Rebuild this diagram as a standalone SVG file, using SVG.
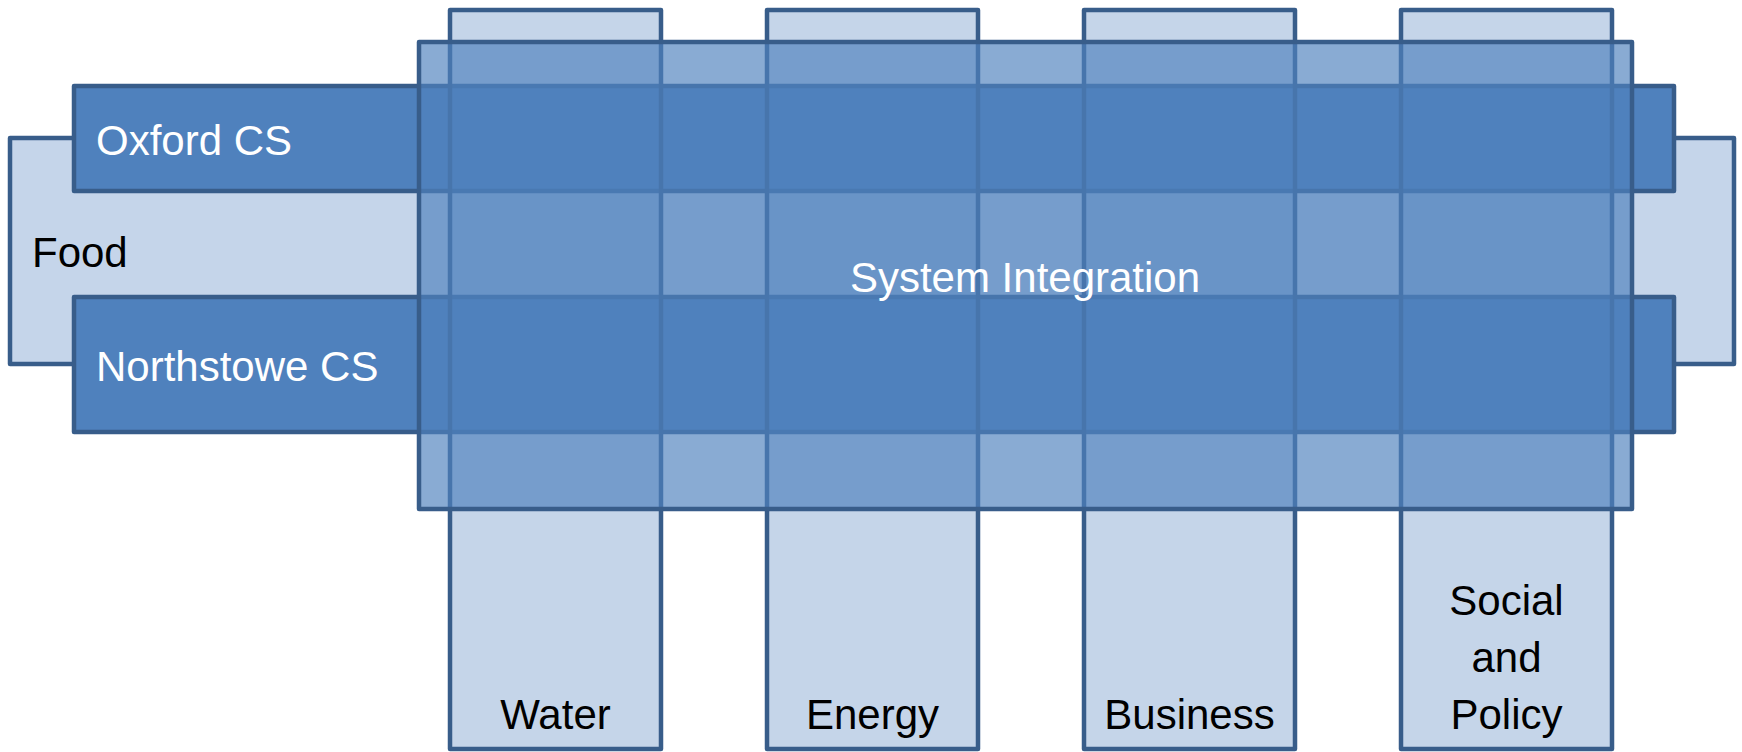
<svg xmlns="http://www.w3.org/2000/svg" width="1742" height="752" viewBox="0 0 1742 752">
  <style>
    .box { stroke: #385D8A; stroke-width: 4.5; stroke-linejoin: round; }
    .light { fill: #C5D5EA; }
    .dark { fill: #4F81BD; }
    .col { fill: #4F81BD; fill-opacity: 0.33; }
    .si { fill: #4F81BD; fill-opacity: 0.67; }
    .t { font-family: "Liberation Sans", Arial, sans-serif; font-size: 42px; }
    .w { fill: #FFFFFF; }
    .k { fill: #000000; }
  </style>
  <rect width="1742" height="752" fill="#FFFFFF"/>
  <g id="food">
    <rect class="box light" x="10" y="138" width="1724" height="226"/>
  </g>
  <g id="oxford-cs">
    <rect class="box dark" x="74" y="86" width="1600" height="105"/>
  </g>
  <g id="northstowe-cs">
    <rect class="box dark" x="74" y="297" width="1600" height="135"/>
  </g>
  <g id="water">
    <rect class="box col" x="450" y="10" width="211" height="739"/>
  </g>
  <g id="energy">
    <rect class="box col" x="767" y="10" width="211" height="739"/>
  </g>
  <g id="business">
    <rect class="box col" x="1084" y="10" width="211" height="739"/>
  </g>
  <g id="social-policy">
    <rect class="box col" x="1401" y="10" width="211" height="739"/>
  </g>
  <g id="system-integration">
    <rect class="box si" x="419" y="42" width="1213" height="467"/>
  </g>
  <g id="labels">
    <text class="t k" x="32" y="267">Food</text>
    <text class="t w" x="96" y="155">Oxford CS</text>
    <text class="t w" x="96" y="381">Northstowe CS</text>
    <text class="t w" x="1025" y="292" text-anchor="middle">System Integration</text>
    <text class="t k" x="555.5" y="729" text-anchor="middle">Water</text>
    <text class="t k" x="872.5" y="729" text-anchor="middle">Energy</text>
    <text class="t k" x="1189.5" y="729" text-anchor="middle">Business</text>
    <text class="t k" x="1506.5" y="615" text-anchor="middle">Social</text>
    <text class="t k" x="1506.5" y="672" text-anchor="middle">and</text>
    <text class="t k" x="1506.5" y="729" text-anchor="middle">Policy</text>
  </g>
</svg>
